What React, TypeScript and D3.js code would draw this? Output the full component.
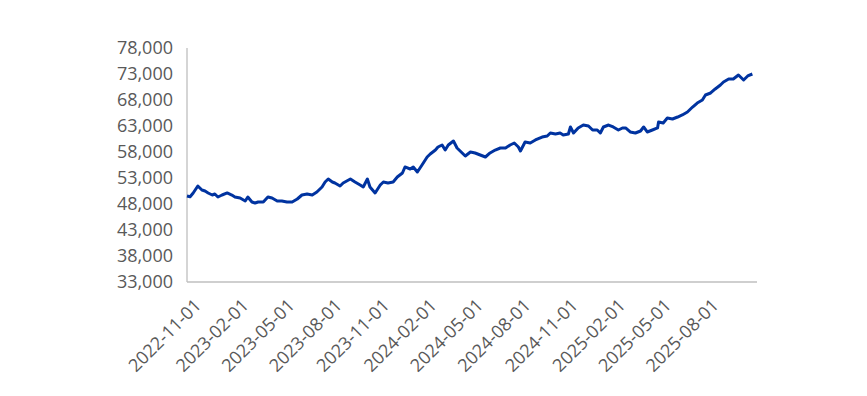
import React from "react";
import * as d3 from "d3";

const dates = [
  "2022-10-13","2022-10-19","2022-10-25","2022-11-03","2022-11-11","2022-11-17","2022-11-23","2022-12-01","2022-12-06","2022-12-12","2022-12-20","2022-12-30",
  "2023-01-08","2023-01-14","2023-01-24","2023-02-03","2023-02-08","2023-02-16","2023-02-22","2023-02-28","2023-03-10","2023-03-19","2023-03-27","2023-04-06",
  "2023-04-15","2023-04-25","2023-05-05","2023-05-15","2023-05-24","2023-06-03","2023-06-13","2023-06-22","2023-07-02","2023-07-08","2023-07-14","2023-07-22",
  "2023-07-27","2023-08-06","2023-08-12","2023-08-26","2023-09-04","2023-09-14","2023-09-20","2023-09-28","2023-10-03","2023-10-13","2023-10-23","2023-10-29",
  "2023-11-07","2023-11-17","2023-11-25","2023-12-05","2023-12-10","2023-12-20","2023-12-26","2024-01-03","2024-01-12","2024-01-22","2024-01-28","2024-02-07",
  "2024-02-12","2024-02-20","2024-02-26","2024-03-03","2024-03-13","2024-03-20","2024-03-26","2024-04-05","2024-04-15","2024-04-24","2024-05-04","2024-05-14",
  "2024-05-23","2024-06-02","2024-06-12","2024-06-22","2024-07-01","2024-07-09","2024-07-17","2024-07-21","2024-07-30","2024-08-09","2024-08-19","2024-09-01",
  "2024-09-11","2024-09-17","2024-09-27","2024-10-06","2024-10-12","2024-10-22","2024-10-26","2024-11-01","2024-11-10","2024-11-20","2024-11-30","2024-12-08",
  "2024-12-17","2024-12-23","2024-12-29","2025-01-08","2025-01-17","2025-01-27","2025-02-04","2025-02-10","2025-02-19","2025-03-01","2025-03-11","2025-03-17",
  "2025-03-24","2025-04-03","2025-04-13","2025-04-15","2025-04-24","2025-05-02","2025-05-12","2025-05-22","2025-05-31","2025-06-10","2025-06-20","2025-06-29",
  "2025-07-09","2025-07-15","2025-07-25","2025-08-03","2025-08-13","2025-08-19","2025-08-29","2025-09-07","2025-09-17","2025-09-27","2025-10-05","2025-10-14"
];

const values = [
  49540, 49400, 50120, 51460, 50690, 50500, 50120, 49730, 49920, 49350, 49730, 50120,
  49730, 49350, 49150, 48580, 49350, 48380, 48190, 48380, 48380, 49350, 49150, 48580,
  48580, 48380, 48380, 48960, 49730, 49920, 49730, 50310, 51270, 52230, 52810, 52230,
  52040, 51460, 52040, 52810, 52230, 51650, 51270, 52810, 51270, 50120, 51650, 52230,
  52040, 52230, 53190, 53960, 55120, 54730, 55120, 54150, 55500, 57040, 57620, 58380,
  58960, 59350, 58380, 59350, 60120, 58770, 58190, 57230, 58000, 57810, 57420, 57040,
  57810, 58380, 58770, 58770, 59350, 59730, 58960, 58190, 59920, 59730, 60310, 60880,
  61080, 61650, 61460, 61650, 61270, 61460, 62810, 61650, 62620, 63190, 63000, 62230,
  62230, 61650, 62810, 63190, 62810, 62230, 62620, 62620, 61850, 61650, 62040, 62810,
  61850, 62230, 62620, 63770, 63580, 64540, 64350, 64730, 65120, 65690, 66650, 67420,
  68000, 68960, 69350, 70120, 70880, 71460, 72040, 72040, 72810, 71850, 72620, 73000
];

const yTicks = [33000, 38000, 43000, 48000, 53000, 58000, 63000, 68000, 73000, 78000];
const xTicks = [
  "2022-11-01","2023-02-01","2023-05-01","2023-08-01","2023-11-01","2024-02-01",
  "2024-05-01","2024-08-01","2024-11-01","2025-02-01","2025-05-01","2025-08-01"
];
const xDomain = ["2022-10-13", "2025-10-23"];

const W = 867, H = 396;
const M = { left: 187, right: 757, top: 48, bottom: 282 };
const FONT = "'Open Sans', 'Liberation Sans', sans-serif";
const parse = d3.timeParse("%Y-%m-%d");

export default function App() {
  const x = d3.scaleTime().domain(xDomain.map((d) => parse(d) as Date)).range([M.left, M.right]);
  const y = d3.scaleLinear().domain([33000, 78000]).range([M.bottom, M.top]);
  const pts = dates.map((d, i) => [parse(d) as Date, values[i]] as [Date, number]);
  const line = d3.line<[Date, number]>().x((d) => x(d[0])).y((d) => y(d[1]));
  const fmt = d3.format(",");

  return (
    <svg width={W} height={H} style={{ position: "absolute", left: 0, top: 0, background: "#fff" }}>
      <line x1={M.left} x2={M.left} y1={M.top} y2={M.bottom} stroke="#bfbfbf" strokeWidth={1.3} />
      <line x1={M.left} x2={M.right} y1={M.bottom} y2={M.bottom} stroke="#bfbfbf" strokeWidth={1.3} />
      {yTicks.map((t) => (
        <text key={t} x={173} y={y(t)} dy="0.36em" textAnchor="end" fontFamily={FONT} fontSize={18} fill="#595959">
          {fmt(t)}
        </text>
      ))}
      {xTicks.map((t) => {
        const tx = x(parse(t) as Date);
        return (
          <text key={t} transform={`translate(${tx + 1},${302}) rotate(-45)`} dy="0.36em" textAnchor="end" fontFamily={FONT} fontSize={18} fill="#595959">
            {t}
          </text>
        );
      })}
      <path d={line(pts) || ""} fill="none" stroke="#0033a0" strokeWidth={3} strokeLinejoin="round" />
    </svg>
  );
}
